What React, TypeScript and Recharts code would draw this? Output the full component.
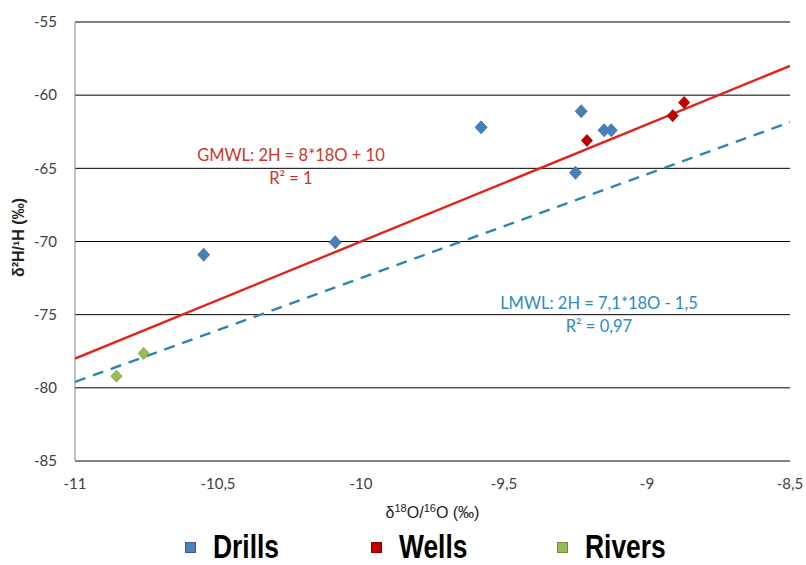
import React from "react";
import {
  ScatterChart, Scatter, XAxis, YAxis, CartesianGrid, ReferenceDot, Legend,
} from "recharts";

document.body.style.margin = "0";

// δ18O (x) vs δ2H (y)
const xTicks = [-11, -10.5, -10, -9.5, -9, -8.5];
const yTicks = [-85, -80, -75, -70, -65, -60, -55];

const drills = [
  { x: -10.55, y: -70.9 },
  { x: -10.09, y: -70.05 },
  { x: -9.58, y: -62.2 },
  { x: -9.23, y: -61.1 },
  { x: -9.25, y: -65.3 },
  { x: -9.15, y: -62.4 },
  { x: -9.125, y: -62.4 },
];
const wells = [
  { x: -9.21, y: -63.1 },
  { x: -8.91, y: -61.4 },
  { x: -8.87, y: -60.5 },
];
const rivers = [
  { x: -10.855, y: -79.2 },
  { x: -10.76, y: -77.65 },
];

// trendline end points
const gmwl = [{ x: -11, y: -78 }, { x: -8.5, y: -58 }];
const lmwl = [{ x: -11, y: -79.6 }, { x: -8.5, y: -61.85 }];

const legendNames = ["Drills", "Wells", "Rivers"];
const legendColors = ["#4f81bd", "#c00000", "#9bbb59"];
const legendBorders = ["#385d8a", "#8c0000", "#71893f"];

const gmwlText = ["GMWL: 2H = 8*18O + 10", "R² = 1"];
const lmwlText = ["LMWL: 2H = 7,1*18O - 1,5", "R² = 0,97"];

const TICK = { fontSize: 15, fill: "#404040", fontFamily: "Lato" };

const Diamond = (color: string, stroke: string, r: number) => (p: any) => {
  const { cx, cy } = p;
  if (cx == null || cy == null) return <g />;
  return (
    <polygon
      points={`${cx},${cy - r - 0.5} ${cx + r},${cy} ${cx},${cy + r + 0.5} ${cx - r},${cy}`}
      fill={color} stroke={stroke} strokeWidth={0.8}
    />
  );
};

const EqLabel = (lines: string[], color: string) => (p: any) => (
  <text x={p.cx} y={p.cy} textAnchor="middle" fill={color} fontFamily="Lato" fontSize={16.5}>
    <tspan x={p.cx} dy="0.35em">{lines[0]}</tspan>
    <tspan x={p.cx} dy={23}>{lines[1]}</tspan>
  </text>
);

const XTitle = ({ viewBox }: any) => {
  const cx = viewBox.x + viewBox.width / 2;
  const y = viewBox.y + 57;
  return (
    <text x={cx} y={y} textAnchor="middle" fontFamily="Liberation Sans" fontSize={16} fill="#222">
      δ<tspan dy={-6} fontSize={11}>18</tspan>
      <tspan dy={6}>O/</tspan>
      <tspan dy={-6} fontSize={11}>16</tspan>
      <tspan dy={6}>O (‰)</tspan>
    </text>
  );
};

const YTitle = ({ viewBox }: any) => {
  const x = 24;
  const cy = viewBox.y + viewBox.height / 2 - 4;
  return (
    <text x={x} y={cy} textAnchor="middle" transform={`rotate(-90 ${x} ${cy})`}
          fontFamily="Liberation Sans" fontWeight="bold" fontSize={16} fill="#222">
      δ²H/¹H (‰)
    </text>
  );
};

const LegendBox = () => (
  <div style={{ position: "relative", height: 36, width: 806 }}>
    {legendNames.map((n, i) => (
      <div key={n} style={{
        position: "absolute", left: 185 + i * 186, top: 0, height: 36,
        display: "flex", alignItems: "center",
      }}>
        <span style={{
          width: 9, height: 9, background: legendColors[i],
          border: `1px solid ${legendBorders[i]}`, marginRight: 17,
        }} />
        <span style={{
          fontFamily: "'Liberation Sans', Arial",
          fontWeight: "bold", fontSize: 33, color: "#000", lineHeight: "36px",
          display: "inline-block", transform: "scaleX(0.8)", transformOrigin: "left center",
        }}>{n}</span>
      </div>
    ))}
  </div>
);

export default function App() {
  return (
    <ScatterChart width={806} height={565} margin={{ top: 22, right: 16, bottom: 0, left: 0 }}>
      <CartesianGrid horizontal vertical={false} stroke="#000" strokeWidth={1} />
      <XAxis
        type="number" dataKey="x" domain={[-11, -8.5]} ticks={xTicks}
        allowDataOverflow height={68} tickLine={false} tickMargin={11}
        axisLine={{ stroke: "#868686" }} tick={TICK}
        tickFormatter={(v: number) => String(v).replace(".", ",")}
        label={{ content: XTitle } as any}
      />
      <YAxis
        type="number" dataKey="y" domain={[-85, -55]} ticks={yTicks}
        allowDataOverflow width={75} tickLine={false} tickMargin={12}
        axisLine={{ stroke: "#868686" }} tick={TICK}
        label={{ content: YTitle } as any}
      />
      <Legend verticalAlign="bottom" height={36} content={LegendBox} />
      <Scatter data={gmwl} line={{ stroke: "#e2231a", strokeWidth: 2.4 }}
               shape={() => <g />} legendType="none" isAnimationActive={false} />
      <Scatter data={lmwl} line={{ stroke: "#2b86b5", strokeWidth: 2.4, strokeDasharray: "11 8" }}
               shape={() => <g />} legendType="none" isAnimationActive={false} />
      <Scatter name="Drills" data={drills} shape={Diamond("#4a7ebb", "#3d6ca3", 6)} isAnimationActive={false} />
      <Scatter name="Wells" data={wells} shape={Diamond("#c00000", "#8c0000", 5.5)} isAnimationActive={false} />
      <Scatter name="Rivers" data={rivers} shape={Diamond("#9bbb59", "#7a9a44", 5.5)} isAnimationActive={false} />
      <ReferenceDot x={-10.245} y={-64.09} r={0} shape={EqLabel(gmwlText, "#d0342c")} />
      <ReferenceDot x={-9.168} y={-74.2} r={0} shape={EqLabel(lmwlText, "#2e8bc0")} />
    </ScatterChart>
  );
}
